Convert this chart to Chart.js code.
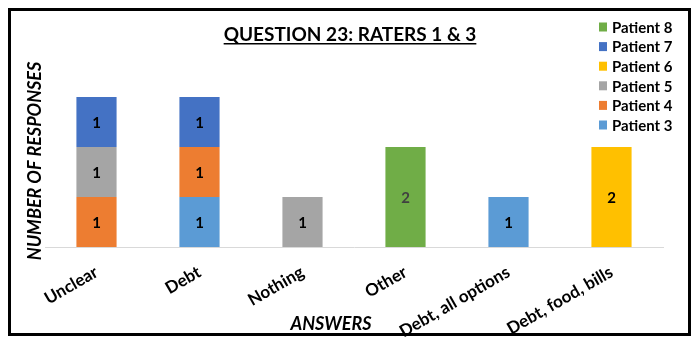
<!DOCTYPE html>
<html>
<head>
<meta charset="utf-8">
<script src="https://cdn.jsdelivr.net/npm/chart.js@4.4.0/dist/chart.umd.min.js"></script>
<style>
  html, body { margin: 0; padding: 0; background: #fff; }
  #wrap { width: 700px; height: 344px; position: relative; }
</style>
</head>
<body>
<div id="wrap"><canvas id="chart"></canvas></div>
<script>
const categories = ["Unclear", "Debt", "Nothing", "Other", "Debt, all options", "Debt, food, bills"];
const patient3 = [null, 1, null, null, 1, null];
const patient4 = [1, 1, null, null, null, null];
const patient5 = [1, null, 1, null, null, null];
const patient6 = [null, null, null, null, null, 2];
const patient7 = [1, 1, null, null, null, null];
const patient8 = [null, null, null, 2, null, null];

const FONT = "Lato, 'DejaVu Sans', sans-serif";

const overlay = {
  id: "overlay",
  afterDraw(chart) {
    const ctx = chart.ctx;
    ctx.save();

    // value labels in the middle of each segment
    ctx.font = "bold 15px " + FONT;
    ctx.textAlign = "center";
    ctx.textBaseline = "middle";
    chart.data.datasets.forEach((ds, i) => {
      const meta = chart.getDatasetMeta(i);
      meta.data.forEach((bar, j) => {
        if (ds.data[j] == null) return;
        ctx.fillStyle = ds.labelColor || "#000";
        ctx.fillText(String(ds.data[j]), bar.x, (bar.y + bar.base) / 2 + 1);
      });
    });

    // title, underlined
    ctx.fillStyle = "#000";
    ctx.font = "bold 19px " + FONT;
    ctx.textBaseline = "alphabetic";
    const title = "QUESTION 23: RATERS 1 & 3";
    const tw = ctx.measureText(title).width;
    ctx.fillText(title, 350, 41);
    ctx.fillRect(350 - tw / 2, 43, tw, 1.5);

    // axis titles
    ctx.font = "italic bold 18px " + FONT;
    ctx.textBaseline = "middle";
    ctx.fillText("ANSWERS", 331, 324);
    ctx.save();
    ctx.translate(35, 161);
    ctx.rotate(-Math.PI / 2);
    ctx.fillText("NUMBER OF RESPONSES", 0, 0);
    ctx.restore();

    // legend, top to bottom in reverse stacking order
    ctx.font = "bold 15px " + FONT;
    ctx.textAlign = "left";
    const dsList = chart.data.datasets.slice().reverse();
    dsList.forEach((ds, k) => {
      const y = 27 + k * 19.6;
      ctx.fillStyle = ds.backgroundColor;
      ctx.fillRect(599, y - 4.5, 8, 9);
      ctx.fillStyle = "#000";
      ctx.fillText(ds.label, 612, y + 1);
    });

    // outer frame
    ctx.strokeStyle = "#000";
    ctx.lineWidth = 3;
    ctx.strokeRect(9.5, 9.5, 680, 325);
    ctx.restore();
  }
};

new Chart(document.getElementById("chart"), {
  type: "bar",
  data: {
    labels: categories,
    datasets: [
      { label: "Patient 3", data: patient3, backgroundColor: "#5B9BD5" },
      { label: "Patient 4", data: patient4, backgroundColor: "#ED7D31" },
      { label: "Patient 5", data: patient5, backgroundColor: "#A5A5A5" },
      { label: "Patient 6", data: patient6, backgroundColor: "#FFC000" },
      { label: "Patient 7", data: patient7, backgroundColor: "#4472C4" },
      { label: "Patient 8", data: patient8, backgroundColor: "#70AD47", labelColor: "#404040" },
    ],
  },
  options: {
    responsive: true,
    maintainAspectRatio: false,
    animation: false,
    devicePixelRatio: 1,
    categoryPercentage: 1,
    barPercentage: 0.39,
    layout: { padding: { left: 45, right: 37, top: 72, bottom: 0 } },
    plugins: {
      legend: { display: false },
      title: { display: false },
      tooltip: { enabled: false },
    },
    scales: {
      x: {
        stacked: true,
        grid: { display: false, drawTicks: false },
        border: { display: true, color: "#D9D9D9", width: 1 },
        ticks: {
          color: "#000",
          font: { family: FONT, size: 17, weight: "bold" },
          minRotation: 30,
          maxRotation: 30,
          padding: 15,
        },
        afterFit(scale) {
          scale.height = 97;
        },
      },
      y: {
        stacked: true,
        display: false,
        min: 0,
        max: 3.5,
      },
    },
  },
  plugins: [overlay],
});
</script>
</body>
</html>
